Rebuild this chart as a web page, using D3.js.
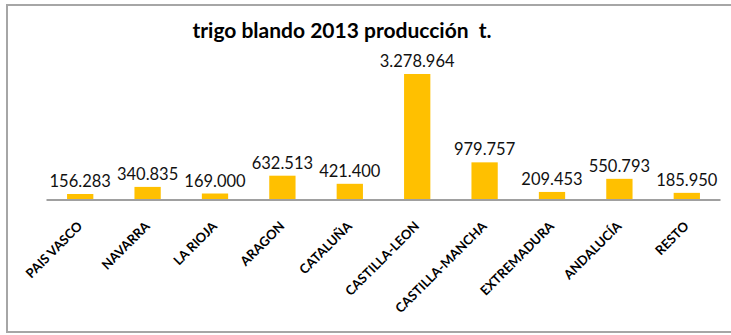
<!DOCTYPE html>
<html>
<head>
<meta charset="utf-8">
<script src="https://cdn.jsdelivr.net/npm/d3@7"></script>
<style>
  body { margin: 0; background: white; }
  svg { display: block; font-family: Lato, "Open Sans", sans-serif; }
</style>
</head>
<body>
<div id="chart"></div>
<script>
var title = "trigo blando 2013 producción  t.";
var categories = ["PAIS VASCO", "NAVARRA", "LA RIOJA", "ARAGON", "CATALUÑA",
  "CASTILLA-LEON", "CASTILLA-MANCHA", "EXTREMADURA", "ANDALUCÍA", "RESTO"];
var values = [156283, 340835, 169000, 632513, 421400, 3278964, 979757, 209453, 550793, 185950];

var width = 731, height = 335;
var plot = {left: 46.5, right: 720.5, base: 200, top: 65.5};

var locale = d3.formatLocale({decimal: ",", thousands: ".", grouping: [3], currency: ["", ""]});
var fmt = locale.format(",d");

var svg = d3.select("#chart").append("svg")
  .attr("width", width)
  .attr("height", height);

// chart frame
svg.append("rect")
  .attr("x", 7).attr("y", 5)
  .attr("width", 760).attr("height", 327)
  .attr("fill", "white")
  .attr("stroke", "#a6a6a6")
  .attr("stroke-width", 2);

svg.append("text")
  .attr("x", 342).attr("y", 38)
  .attr("text-anchor", "middle")
  .style("font-size", "21px")
  .style("font-weight", 700)
  .style("white-space", "pre")
  .attr("fill", "#000")
  .text(title);

var x = d3.scaleBand()
  .domain(categories)
  .range([plot.left, plot.right])
  .paddingInner(0.61)
  .paddingOuter(0.305);

var y = d3.scaleLinear()
  .domain([0, 3500000])
  .range([plot.base, plot.top]);

var rows = categories.map(function(c, i) { return {name: c, value: values[i]}; });

svg.append("g")
  .selectAll("rect")
  .data(rows)
  .enter().append("rect")
    .attr("x", d => x(d.name))
    .attr("y", d => y(d.value))
    .attr("width", x.bandwidth())
    .attr("height", d => y(0) - y(d.value))
    .attr("fill", "#ffc000");

// baseline
svg.append("line")
  .attr("x1", plot.left).attr("x2", plot.right)
  .attr("y1", y(0)).attr("y2", y(0))
  .attr("stroke", "#a0a0a0")
  .attr("stroke-width", 2);

svg.append("g")
  .selectAll("text")
  .data(rows)
  .enter().append("text")
    .attr("x", d => x(d.name) + x.bandwidth() / 2)
    .attr("y", d => y(d.value) - 7)
    .attr("text-anchor", "middle")
    .style("font-size", "16.5px")
    .attr("fill", "#111")
    .text(d => fmt(d.value));

svg.append("g")
  .selectAll("text")
  .data(rows)
  .enter().append("text")
    .attr("transform", d => "translate(" + (x(d.name) + x.bandwidth() / 2 + 3) + ",227) rotate(-45)")
    .attr("text-anchor", "end")
    .style("font-size", "13px")
    .style("font-weight", 700)
    .attr("fill", "#000")
    .text(d => d.name);
</script>
</body>
</html>
